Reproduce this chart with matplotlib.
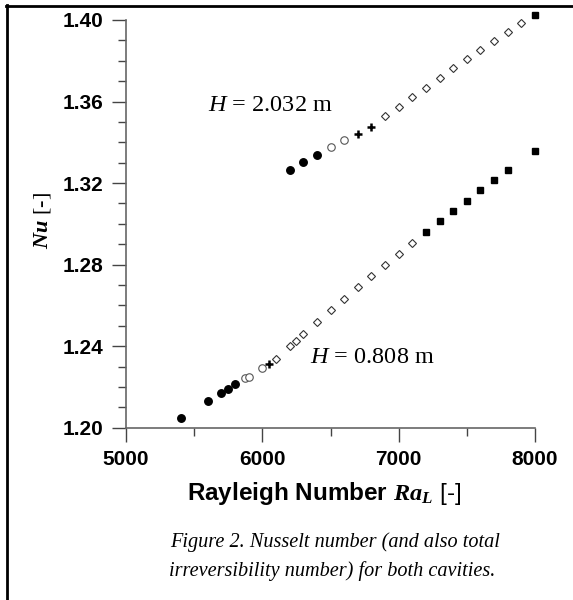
import numpy as np
from matplotlib import pyplot as plt
from matplotlib.lines import Line2D

plt.rcParams['mathtext.fontset'] = 'custom'
plt.rcParams['mathtext.rm'] = 'Liberation Serif'
plt.rcParams['mathtext.it'] = 'Liberation Serif:italic'
plt.rcParams['mathtext.bf'] = 'Liberation Sans:bold'
plt.rcParams['mathtext.bfit'] = 'Liberation Serif:italic:bold'
plt.rcParams['mathtext.sf'] = 'Liberation Sans'

# H = 0.808 m cavity
low_circ_ra = [5400, 5600, 5700, 5750, 5800]
low_circ_nu = [1.2049, 1.2131, 1.2171, 1.2191, 1.2212]
low_open_ra = [5875, 5900, 6000]
low_open_nu = [1.2243, 1.2250, 1.2291]
low_plus_ra = [6050]
low_plus_nu = [1.2312]
low_diam_ra = [6100, 6200, 6250, 6300, 6400, 6500, 6600, 6700, 6800, 6900, 7000, 7100]
low_diam_nu = [1.2336, 1.2400, 1.2426, 1.2459, 1.2518, 1.2575, 1.2632, 1.2689, 1.2743, 1.2798, 1.2852, 1.2906]
low_sq_ra = [7200, 7300, 7400, 7500, 7600, 7700, 7800, 8000]
low_sq_nu = [1.2960, 1.3012, 1.3065, 1.3114, 1.3164, 1.3213, 1.3262, 1.3357]

# H = 2.032 m cavity
high_circ_ra = [6200, 6300, 6400]
high_circ_nu = [1.3265, 1.3303, 1.3337]
high_open_ra = [6500, 6600]
high_open_nu = [1.3376, 1.3409]
high_plus_ra = [6700, 6800]
high_plus_nu = [1.3442, 1.3477]
high_diam_ra = [6900, 7000, 7100, 7200, 7300, 7400, 7500, 7600, 7700, 7800, 7900]
high_diam_nu = [1.3528, 1.3575, 1.3621, 1.3668, 1.3717, 1.3763, 1.3807, 1.3851, 1.3895, 1.3939, 1.3983]
high_sq_ra = [8000]
high_sq_nu = [1.4025]

x_ticks = [5000, 6000, 7000, 8000]
y_ticks = [1.20, 1.24, 1.28, 1.32, 1.36, 1.40]

fig = plt.figure(figsize=(5.73, 6.0), dpi=100)
ax = fig.add_axes([0.2199, 0.2872, 0.7138, 0.6795])

def draw(ra, nu, kind):
    if kind == 'circ':
        ax.plot(ra, nu, 'o', ms=5.4, color='black', clip_on=False, zorder=3)
    if kind == 'open':
        ax.plot(ra, nu, 'o', ms=5.4, mfc='white', mec='#555555', mew=0.8, clip_on=False, zorder=3)
    if kind == 'plus':
        ax.plot(ra, nu, '+', ms=5.5, color='black', mew=1.8, clip_on=False, zorder=3)
    if kind == 'diam':
        ax.plot(ra, nu, 'D', ms=3.6, mfc='white', mec='#333333', mew=0.8, clip_on=False, zorder=3)
    if kind == 'sq':
        ax.plot(ra, nu, 's', ms=4.3, color='black', clip_on=False, zorder=3)

draw(low_circ_ra, low_circ_nu, 'circ')
draw(low_open_ra, low_open_nu, 'open')
draw(low_plus_ra, low_plus_nu, 'plus')
draw(low_diam_ra, low_diam_nu, 'diam')
draw(low_sq_ra, low_sq_nu, 'sq')

draw(high_circ_ra, high_circ_nu, 'circ')
draw(high_open_ra, high_open_nu, 'open')
draw(high_plus_ra, high_plus_nu, 'plus')
draw(high_diam_ra, high_diam_nu, 'diam')
draw(high_sq_ra, high_sq_nu, 'sq')

ax.set_xlim(5000, 8000)
ax.set_ylim(1.20, 1.40)

for s in ['top', 'right']:
    ax.spines[s].set_visible(False)
for s in ['left', 'bottom']:
    ax.spines[s].set_color('#666666')
    ax.spines[s].set_linewidth(1.2)

ax.set_xticks(x_ticks)
ax.set_xticklabels([str(v) for v in x_ticks])
ax.set_xticks(np.arange(5500, 8000, 1000), minor=True)
ax.set_yticks(y_ticks)
ax.set_yticklabels(['%.2f' % v for v in y_ticks])
ax.set_yticks(np.arange(1.21, 1.40, 0.01), minor=True)

ax.tick_params(which='major', direction='out', length=10, width=1.0, color='#444444', pad=6)
ax.tick_params(which='minor', direction='out', length=5.5, width=1.0, color='#444444')
for lab in ax.get_xticklabels() + ax.get_yticklabels():
    lab.set_fontfamily('Liberation Sans')
    lab.set_fontweight('bold')
    lab.set_fontsize(15)

# annotations
ax.text(5601, 1.358, r'$\mathit{H}$ = 2.032 m', family='Liberation Serif', fontsize=17.5, va='center', ha='left')
ax.text(6348, 1.2346, r'$\mathit{H}$ = 0.808 m', family='Liberation Serif', fontsize=17.5, va='center', ha='left')

# axis labels
fig.text(0.565, 0.1767, 'Rayleigh Number $\\mathbfit{Ra}_{\\mathbfit{L}}$ $\\mathsf{[\u2010]}$',
         family='Liberation Sans', fontweight='bold', fontsize=17.5, ha='center', va='center')
fig.text(0.075, 0.633, r'$\mathbfit{Nu}$ [-]', family='Liberation Serif', fontsize=16,
         rotation=90, ha='center', va='center')

# caption
fig.text(0.585, 0.0967, 'Figure 2. Nusselt number (and also total', family='Liberation Serif',
         style='italic', fontsize=14.6, ha='center', va='center')
fig.text(0.58, 0.0483, 'irreversibility number) for both cavities.', family='Liberation Serif',
         style='italic', fontsize=14.6, ha='center', va='center')

# page frame (top and left edge of the box)
fig.add_artist(Line2D([6 / 573, 1.0], [1 - 6 / 600, 1 - 6 / 600], transform=fig.transFigure, color='black', lw=2.0))
fig.add_artist(Line2D([7 / 573, 7 / 573], [0.0, 1 - 5 / 600], transform=fig.transFigure, color='black', lw=2.0))

fig.savefig('out.png', dpi=100)
